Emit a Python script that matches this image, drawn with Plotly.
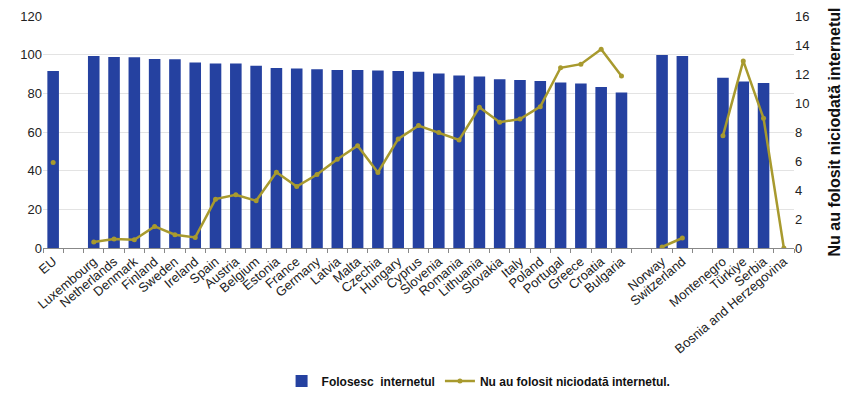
import plotly.graph_objects as go

categories = ["EU", " ", "Luxembourg", "Netherlands", "Denmark", "Finland", "Sweden", "Ireland",
              "Spain", "Austria", "Belgium", "Estonia", "France", "Germany", "Latvia", "Malta",
              "Czechia", "Hungary", "Cyprus", "Slovenia", "Romania", "Lithuania", "Slovakia",
              "Italy", "Poland", "Portugal", "Greece", "Croatia", "Bulgaria", "  ", "Norway",
              "Switzerland", "   ", "Montenegro", "Türkiye", "Serbia", "Bosnia and Herzegovina"]

use_internet = [91.6, None, 99.3, 98.8, 98.6, 97.8, 97.6, 96.0, 95.4, 95.4, 94.3, 93.1, 92.8,
                92.4, 92.1, 92.1, 91.8, 91.6, 91.2, 90.2, 89.2, 88.7, 87.3, 86.9, 86.4, 85.6,
                85.1, 83.3, 80.4, None, 99.8, 99.3, None, 88.1, 86.1, 85.4, None]

never_used = [5.9, None, 0.41, 0.62, 0.57, 1.49, 0.92, 0.73, 3.37, 3.67, 3.26, 5.23, 4.24,
              5.07, 6.12, 7.06, 5.21, 7.52, 8.44, 7.96, 7.45, 9.70, 8.67, 8.90, 9.75, 12.43,
              12.68, 13.7, 11.86, None, 0.07, 0.69, None, 7.75, 12.9, 8.94, 0.0]

left_ticks = [0, 20, 40, 60, 80, 100, 120]
right_ticks = [0, 2, 4, 6, 8, 10, 12, 14, 16]

BAR = "#2541A0"
LINE = "#A89A2E"
FONT = "Liberation Sans, Arial, sans-serif"

fig = go.Figure()
fig.add_trace(go.Bar(x=categories, y=use_internet, name="<b>Folosesc  internetul</b>",
                     marker=dict(color=BAR, line=dict(width=0)), width=0.57))
fig.add_trace(go.Scatter(x=categories, y=never_used, name="<b>Nu au folosit niciodată internetul.</b>",
                         mode="lines+markers", yaxis="y2", connectgaps=False,
                         line=dict(color=LINE, width=2.5),
                         marker=dict(color=LINE, size=5)))

fig.update_layout(
    width=845, height=394,
    margin=dict(l=43, r=51, t=16, b=146, autoexpand=False),
    paper_bgcolor="white", plot_bgcolor="white",
    font=dict(family=FONT, size=13, color="#222222"),
    showlegend=True,
    legend=dict(orientation="h", x=0.58, xanchor="center", y=-0.573, yanchor="middle",
                font=dict(size=12, color="#111111", family=FONT),
                itemwidth=30, tracegroupgap=0),
    xaxis=dict(type="category", categoryorder="array", categoryarray=categories,
               tickangle=-40, tickfont=dict(size=13, color="#222222"), automargin=False,
               ticks="outside", tickson="boundaries", ticklen=4, tickcolor="#888888",
               showline=True, linecolor="#888888", linewidth=1, showgrid=False,
               range=[-0.5, len(categories) - 0.5]),
    yaxis=dict(range=[0, 120], tickvals=left_ticks, showgrid=True, gridcolor="#E3E3E3",
               gridwidth=1, zeroline=False, tickfont=dict(size=13, color="#222222"),
               ticks="", showline=False, automargin=False),
    yaxis2=dict(range=[0, 16], tickvals=right_ticks, overlaying="y", side="right",
                showgrid=False, zeroline=False, tickfont=dict(size=13, color="#222222"),
                automargin=False,
                title=dict(text="<b>Nu au folosit niciodată internetul</b>",
                           font=dict(size=16, color="#111111", family=FONT), standoff=20)),
)

fig.write_html("out.html")
